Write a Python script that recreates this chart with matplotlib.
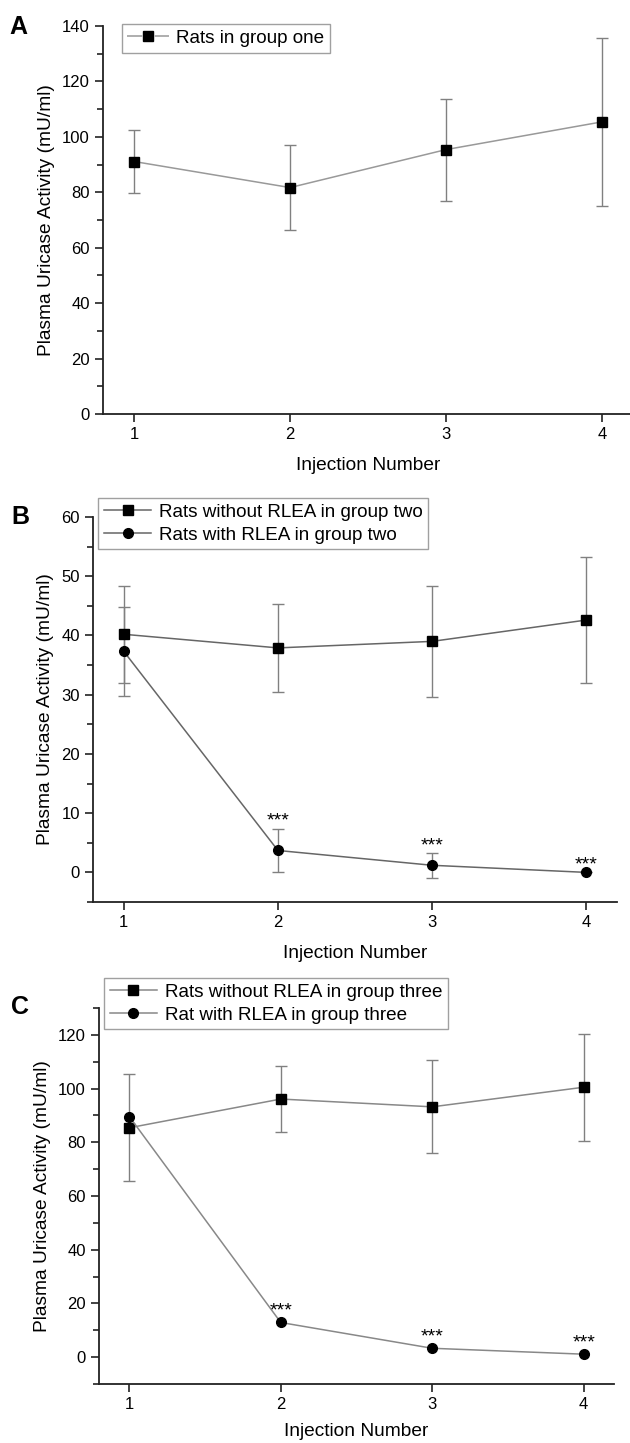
import numpy as np
import matplotlib
matplotlib.use('Agg')
import matplotlib.pyplot as plt
from matplotlib.lines import Line2D
from matplotlib.ticker import MultipleLocator

plt.rcParams['font.family'] = ['Liberation Sans', 'DejaVu Sans']
plt.rcParams['lines.scale_dashes'] = False

# données
injections = [1, 2, 3, 4]

# A : groupe un
g1_moy = [91.1, 81.7, 95.4, 105.4]
g1_err = [11.3, 15.4, 18.4, 30.4]

# B : groupe deux
g2_sans_moy = [40.2, 37.9, 39.0, 42.6]
g2_sans_err = [8.2, 7.4, 9.4, 10.6]
g2_avec_moy = [37.3, 3.7, 1.2, 0.0]
g2_avec_err = [7.5, 3.7, 2.1, 0.0]

# C : groupe trois
g3_sans_moy = [85.4, 96.1, 93.2, 100.5]
g3_sans_err = [20.0, 12.2, 17.3, 20.0]
g3_avec_moy = [89.6, 12.9, 3.3, 1.1]

etoiles = ['', '***', '***', '***']

W, H = 630, 1443
fig = plt.figure(figsize=(W / 100, H / 100), dpi=100)


def axe(left, right, top, bottom):
    return fig.add_axes([left / W, 1 - bottom / H, (right - left) / W, (bottom - top) / H])


def style(ax, ylim, majeur, mineur, pad_x=11):
    for s in ['top', 'right']:
        ax.spines[s].set_visible(False)
    for s in ['left', 'bottom']:
        ax.spines[s].set_linewidth(1.3)
        ax.spines[s].set_color('#222222')
    ax.set_xlim(0.8, 4.2)
    ax.set_ylim(*ylim)
    ax.set_xticks(injections)
    ax.yaxis.set_major_locator(MultipleLocator(majeur))
    ax.yaxis.set_minor_locator(MultipleLocator(mineur))
    ax.tick_params(axis='both', which='major', length=6, width=1.2, labelsize=12, color='#222222')
    ax.tick_params(axis='y', which='minor', length=4, width=1.2, color='#222222')
    ax.tick_params(axis='x', which='minor', length=0)
    ax.set_xlabel('Injection Number', fontsize=13.8, labelpad=pad_x)
    ax.set_ylabel('Plasma Uricase Activity (mU/ml)', fontsize=13.8, labelpad=5)


def serie(ax, moy, err, marker, couleur, label):
    if err is not None:
        ax.errorbar(injections, moy, yerr=err, fmt='none', ecolor='#808080',
                    elinewidth=1, capsize=4, capthick=1, zorder=2)
    ax.plot(injections, moy, color=couleur, lw=1.1, marker=marker, ms=7,
            mfc='black', mec='black', label=label, zorder=3)


def ajouter_etoiles(ax, moy, err, decalage):
    hauts = np.array(moy) + (np.array(err) if err is not None else 0)
    for x, y, txt in zip(injections, hauts, etoiles):
        if txt:
            ax.annotate(txt, (x, y), xytext=(0, decalage), textcoords='offset points',
                        ha='center', va='bottom', fontsize=14)


legende = dict(loc='upper left', fontsize=13.6, frameon=True, fancybox=False,
               edgecolor='#888888', borderpad=0.3, handletextpad=0.4,
               labelspacing=0.3, borderaxespad=0)

# ---- A
ax1 = axe(103, 633, 26, 414)
serie(ax1, g1_moy, g1_err, 's', '#999999', 'Rats in group one')
style(ax1, (0, 140), 20, 10)
# poignée de légende façon Origin : trait - carré - trait
poignee = Line2D([], [], color='#999999', lw=1.1, marker='s', ms=7, mfc='black',
                 mec='black', dashes=(11, 9))
ax1.legend(handles=[poignee], labels=['Rats in group one'], bbox_to_anchor=(0.035, 1.005),
           handlelength=2.2, **legende)
fig.text(9 / W, 1 - 34 / H, 'A', fontsize=18, fontweight='bold')

# ---- B
ax2 = axe(93, 617, 517, 902)
serie(ax2, g2_sans_moy, g2_sans_err, 's', '#666666', 'Rats without RLEA in group two')
serie(ax2, g2_avec_moy, g2_avec_err, 'o', '#666666', 'Rats with RLEA in group two')
ajouter_etoiles(ax2, g2_avec_moy, g2_avec_err, -1)
style(ax2, (-5, 60), 10, 5)
ax2.legend(bbox_to_anchor=(0.01, 1.05), handlelength=2.5, **legende)
fig.text(11 / W, 1 - 524 / H, 'B', fontsize=18, fontweight='bold')

# ---- C
ax3 = axe(99, 614, 1008, 1384)
serie(ax3, g3_sans_moy, g3_sans_err, 's', '#888888', 'Rats without RLEA in group three')
serie(ax3, g3_avec_moy, None, 'o', '#888888', 'Rat with RLEA in group three')
ajouter_etoiles(ax3, g3_avec_moy, None, 2)
style(ax3, (-10, 130), 20, 10, pad_x=8)
ax3.legend(bbox_to_anchor=(0.01, 1.08), handlelength=2.5, **legende)
fig.text(11 / W, 1 - 1014 / H, 'C', fontsize=18, fontweight='bold')

fig.savefig('out.png', dpi=100)
